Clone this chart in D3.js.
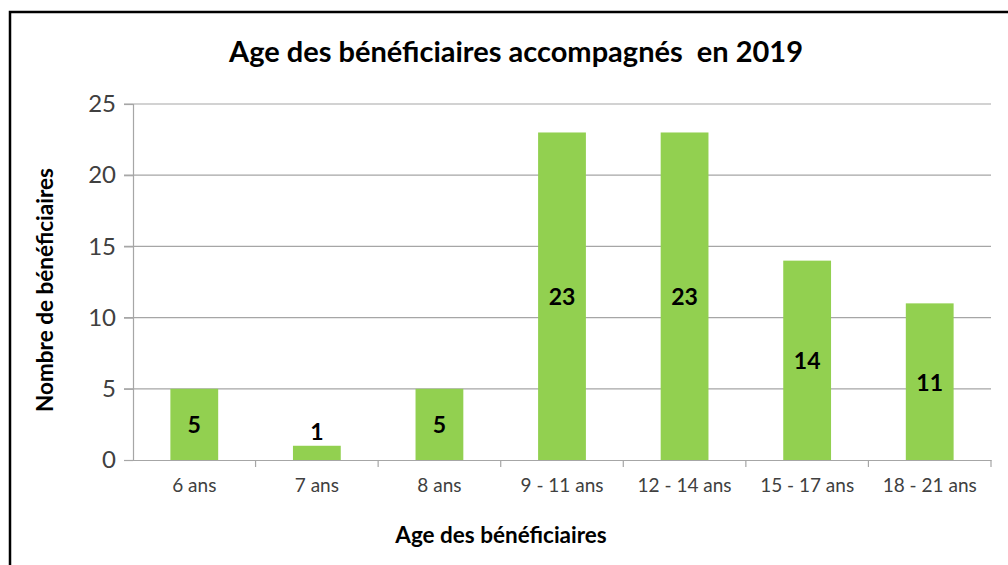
<!DOCTYPE html>
<html>
<head>
<meta charset="utf-8">
<script src="https://cdn.jsdelivr.net/npm/d3@7"></script>
<style>
  body { margin: 0; background: #fff; }
  svg { font-family: Lato, "Open Sans", sans-serif; }
</style>
</head>
<body>
<div id="container"></div>
<script>
/* DATA */
const categories = ["6 ans", "7 ans", "8 ans", "9 - 11 ans", "12 - 14 ans", "15 - 17 ans", "18 - 21 ans"];
const values = [5, 1, 5, 23, 23, 14, 11];
const yTicks = [0, 5, 10, 15, 20, 25];

const width = 1008, height = 565;
const margin = { top: 104, bottom: 105, left: 133, right: 17 };

const svg = d3.select("#container")
  .append("svg")
  .attr("width", width)
  .attr("height", height);

// chart frame
svg.append("rect")
  .attr("x", 10).attr("y", 12)
  .attr("width", 1010).attr("height", 600)
  .attr("fill", "none")
  .attr("stroke", "#000")
  .attr("stroke-width", 2.5);

/* SCALES */
const xScale = d3.scaleBand()
  .domain(categories)
  .range([margin.left, width - margin.right])
  .paddingInner(0.61)
  .paddingOuter(0.305);

const xBand = d3.scaleBand()
  .domain(categories)
  .range([margin.left, width - margin.right]);

const yScale = d3.scaleLinear()
  .domain([0, 25])
  .range([height - margin.bottom, margin.top]);

// gridlines
svg.append("g")
  .selectAll("line")
  .data(yTicks.filter(d => d > 0))
  .join("line")
  .attr("x1", margin.left - 9)
  .attr("x2", width - margin.right)
  .attr("y1", d => yScale(d))
  .attr("y2", d => yScale(d))
  .attr("stroke", "#a6a6a6")
  .attr("stroke-width", 1.2);

// y axis
const yAxis = d3.axisLeft(yScale)
  .tickValues(yTicks)
  .tickSize(9)
  .tickPadding(8);

const gy = svg.append("g")
  .attr("transform", `translate(${margin.left},0)`)
  .call(yAxis);
gy.select(".domain").attr("stroke", "#a6a6a6").attr("stroke-width", 1.2);
gy.selectAll(".tick line").attr("stroke", "#a6a6a6").attr("stroke-width", 1.2);
gy.selectAll(".tick text")
  .attr("font-size", "24px")
  .attr("fill", "#404040")
  .attr("font-family", "Lato, sans-serif");

// x axis
const xAxis = d3.axisBottom(xBand)
  .tickSize(0)
  .tickPadding(19);

const gx = svg.append("g")
  .attr("transform", `translate(0,${height - margin.bottom})`)
  .call(xAxis);
gx.select(".domain").attr("stroke", "#a6a6a6").attr("stroke-width", 1.2);
gx.selectAll(".tick text")
  .attr("font-size", "19px")
  .attr("fill", "#404040")
  .attr("font-family", "Lato, sans-serif");

// x tick marks between categories
gx.append("g")
  .selectAll("line")
  .data(categories)
  .join("line")
  .attr("x1", d => xBand(d) + xBand.bandwidth())
  .attr("x2", d => xBand(d) + xBand.bandwidth())
  .attr("y1", 0)
  .attr("y2", 7)
  .attr("stroke", "#a6a6a6")
  .attr("stroke-width", 1.2);

/* BARS */
svg.append("g")
  .selectAll("rect")
  .data(values)
  .join("rect")
  .attr("x", (d, i) => xScale(categories[i]))
  .attr("y", d => yScale(d))
  .attr("width", xScale.bandwidth())
  .attr("height", d => yScale(0) - yScale(d))
  .attr("fill", "#92d050");

// value labels
svg.append("g")
  .selectAll("text")
  .data(values)
  .join("text")
  .attr("x", (d, i) => xScale(categories[i]) + xScale.bandwidth() / 2)
  .attr("y", d => d < 2 ? yScale(d) - 14 : (yScale(d) + yScale(0)) / 2 + 1)
  .attr("dy", "0.35em")
  .attr("text-anchor", "middle")
  .attr("font-size", "23px")
  .attr("font-weight", "bold")
  .attr("fill", "#000")
  .text(d => d);

/* TITLES */
svg.append("text")
  .attr("x", 516)
  .attr("y", 52)
  .attr("dy", "0.35em")
  .attr("text-anchor", "middle")
  .attr("font-size", "29px")
  .attr("font-weight", "bold")
  .attr("fill", "#000")
  .attr("xml:space", "preserve")
  .text("Age des bénéficiaires accompagnés  en 2019");

svg.append("text")
  .attr("x", 501)
  .attr("y", 535)
  .attr("dy", "0.35em")
  .attr("text-anchor", "middle")
  .attr("font-size", "22.5px")
  .attr("font-weight", "bold")
  .attr("fill", "#000")
  .text("Age des bénéficiaires");

svg.append("text")
  .attr("transform", "rotate(-90)")
  .attr("x", -290)
  .attr("y", 45)
  .attr("dy", "0.35em")
  .attr("text-anchor", "middle")
  .attr("font-size", "22.5px")
  .attr("font-weight", "bold")
  .attr("fill", "#000")
  .text("Nombre de bénéficiaires");
</script>
</body>
</html>
